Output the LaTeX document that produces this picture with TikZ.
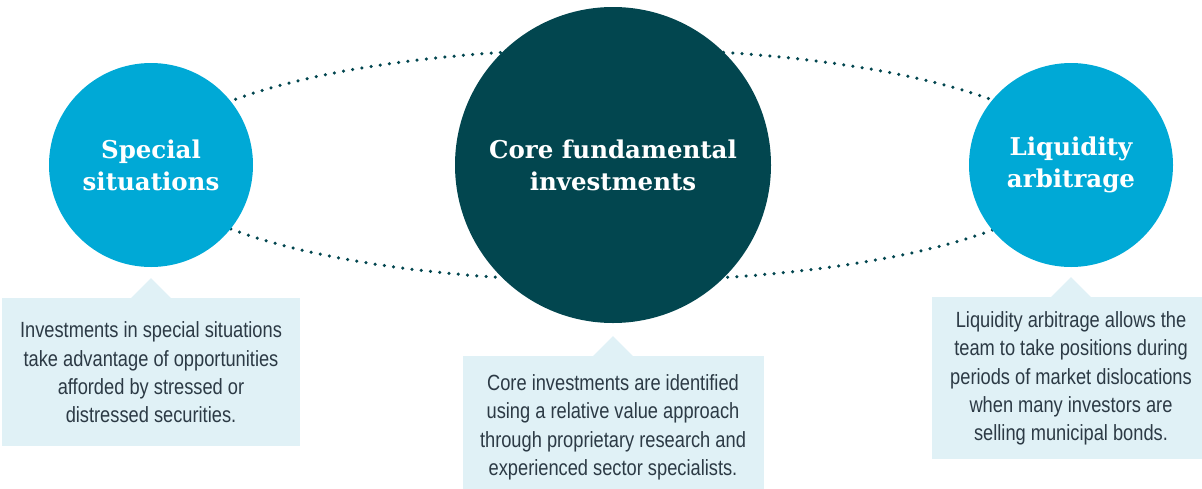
\documentclass[tikz,border=0pt]{standalone}
\usepackage{fontspec}
\usepackage{xcolor}
\usepackage{tikz}
\usetikzlibrary{positioning}
\newfontfamily\titlefont{DejaVu Serif}
\newfontfamily\notefont[FakeStretch=0.83]{Liberation Sans}
\definecolor{sideblue}{HTML}{00A9D6}
\definecolor{coreteal}{HTML}{02464F}
\definecolor{notefill}{HTML}{E0F1F6}
\definecolor{notetext}{HTML}{2C3A45}
\pgfdeclarelayer{background}
\pgfsetlayers{background,main}
\tikzset{
    circlebase/.style={
        circle,
        inner sep=0pt,
        align=center,
        text=white,
        font=\titlefont\bfseries\fontsize{24.5}{32}\selectfont
    },
    sidecircle/.style={circlebase, fill=sideblue, minimum size=204pt},
    corecircle/.style={circlebase, fill=coreteal, minimum size=316pt},
    notebox/.style={
        fill=notefill,
        text=notetext,
        align=center,
        inner sep=0pt,
        font=\notefont\fontsize{22}{28.2}\selectfont
    },
    dotloop/.style={draw=coreteal, line width=3.5pt, line cap=round, dash pattern=on 0pt off 9.3pt}
}

\begin{document}
\begin{tikzpicture}[x=1pt, y=-1pt]
    \clip (0,0) rectangle (1202,488);

    \node[sidecircle] (special) at (151,165) {Special\\situations};
    \node[corecircle] (core) at (613,165) {Core fundamental\\investments};
    \node[sidecircle] (liquidity) at (1071,165) {Liquidity\\arbitrage};

    \node[notebox, below=31pt of special, minimum width=298pt, minimum height=148pt] (specialnote)
        {Investments in special situations\\take advantage of opportunities\\afforded by stressed or\\distressed securities.};
    \node[notebox, below=33pt of core, minimum width=301pt, minimum height=142pt] (corenote)
        {Core investments are identified\\using a relative value approach\\through proprietary research and\\experienced sector specialists.};
    \node[notebox, below=30pt of liquidity, minimum width=278pt, minimum height=162pt] (liquiditynote)
        {Liquidity arbitrage allows the\\team to take positions during\\periods of market dislocations\\when many investors are\\selling municipal bonds.};

    \foreach \n in {specialnote, corenote, liquiditynote}
        \fill[notefill] (\n.north) ++(-20pt,0) -- ++(20pt,20pt) -- ++(20pt,-20pt) -- cycle;

    \begin{pgfonlayer}{background}
        \draw[dotloop] (core.center) ellipse [x radius=458pt, y radius=116pt];
    \end{pgfonlayer}
\end{tikzpicture}
\end{document}
